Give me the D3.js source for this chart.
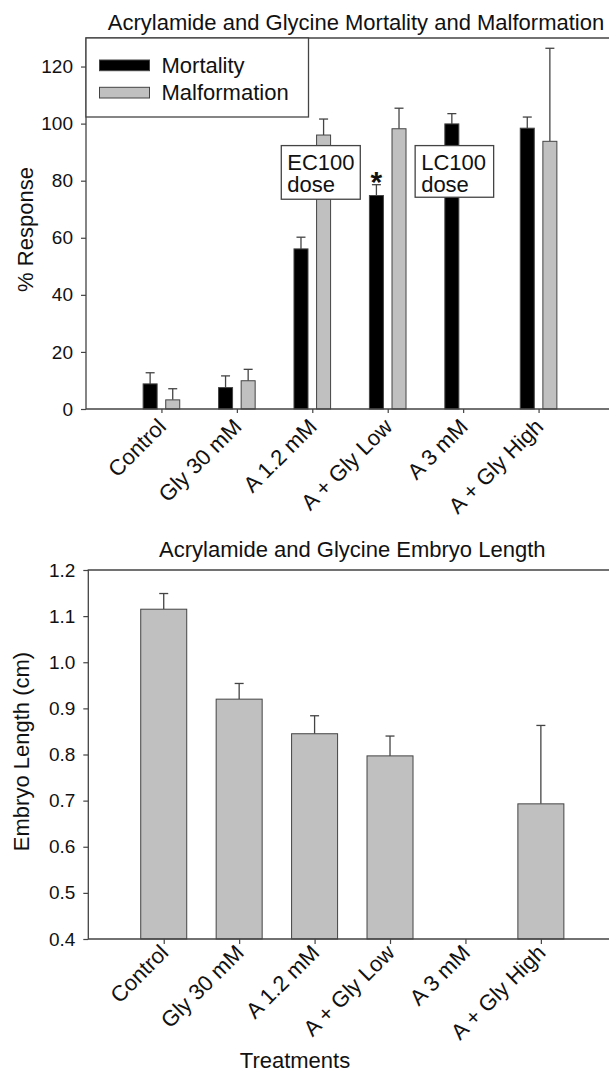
<!DOCTYPE html>
<html>
<head>
<meta charset="utf-8">
<style>
  body { margin: 0; background: #fff; }
  svg { display: block; font-family: 'Liberation Sans', Arial, sans-serif; }
  .axis .domain { display: none; }
  .axis .tick line { stroke: #444; stroke-width: 1.2; }
  .axis .tick text { font-size: 19px; fill: #111; font-family: 'Liberation Sans', Arial, sans-serif; }
  .title { font-size: 22px; fill: #111; }
  .axis-label { font-size: 22px; fill: #111; }
  .cat-label { font-size: 22px; fill: #111; }
  .frame { stroke: #444; stroke-width: 1.3; fill: none; }
  .err { stroke: #444; stroke-width: 1.3; }
  .note { font-size: 22px; fill: #111; }
</style>
</head>
<body>
<svg width="609" height="1073"></svg>
<script src="https://d3js.org/d3.v7.min.js"></script>
<script>
// treatments, in plotting order
const categories = ["Control", "Gly 30 mM", "A 1.2 mM", "A + Gly Low", "A 3 mM", "A + Gly High"];

// top panel: % response (upper error only)
const mortality = [8.8, 7.5, 56.1, 74.8, 99.9, 98.4];
const mortalityErr = [3.9, 4.1, 4.1, 3.8, 3.6, 3.9];
const malformation = [3.2, 9.9, 96.0, 98.2, null, 93.8];
const malformationErr = [3.9, 4.0, 5.6, 7.2, null, 32.6];
const topTicks = [0, 20, 40, 60, 80, 100, 120];

// bottom panel: embryo length (cm)
const lengthMean = [1.115, 0.920, 0.845, 0.797, null, 0.693];
const lengthErr = [0.034, 0.034, 0.039, 0.043, null, 0.170];
const bottomTicks = [0.4, 0.5, 0.6, 0.7, 0.8, 0.9, 1.0, 1.1, 1.2];

const svg = d3.select("svg");
const black = "#000000", grey = "#c0c0c0", edge = "#444";

// ---------- top panel ----------
const xTop = d3.scaleLinear().domain([0, 7]).range([86, 614]);
const yTop = d3.scaleLinear().domain([0, 130]).range([409, 38]);

const gTop = svg.append("g");

gTop.append("text")
    .attr("class", "title")
    .attr("x", (xTop(0) + xTop(7)) / 2 + 6)
    .attr("y", 30)
    .attr("text-anchor", "middle")
    .text("Acrylamide and Glycine Mortality and Malformation");

gTop.append("g")
    .attr("class", "axis")
    .attr("transform", `translate(${xTop(0)},0)`)
    .call(d3.axisLeft(yTop).tickValues(topTicks).tickSize(5).tickPadding(8));

gTop.append("g")
    .attr("class", "axis")
    .attr("transform", `translate(0,${yTop(0)})`)
    .call(d3.axisBottom(xTop).tickValues(d3.range(1, 7)).tickSize(4).tickFormat(""));

let bw = 14, off = 11.3;

let series = [
    { vals: mortality, errs: mortalityErr, fill: black, dx: -off },
    { vals: malformation, errs: malformationErr, fill: grey, dx: off }
];

series.forEach(s => {
    let rows = categories.map((c, i) => ({ i: i, v: s.vals[i], e: s.errs[i] }))
        .filter(d => d.v != null);

    gTop.selectAll(null)
        .data(rows)
        .join("line")
        .attr("class", "err")
        .attr("x1", d => xTop(d.i + 1) + s.dx)
        .attr("x2", d => xTop(d.i + 1) + s.dx)
        .attr("y1", d => yTop(d.v))
        .attr("y2", d => yTop(d.v + d.e));

    gTop.selectAll(null)
        .data(rows)
        .join("line")
        .attr("class", "err")
        .attr("x1", d => xTop(d.i + 1) + s.dx - 4.5)
        .attr("x2", d => xTop(d.i + 1) + s.dx + 4.5)
        .attr("y1", d => yTop(d.v + d.e))
        .attr("y2", d => yTop(d.v + d.e));

    gTop.selectAll(null)
        .data(rows)
        .join("rect")
        .attr("x", d => xTop(d.i + 1) + s.dx - bw / 2)
        .attr("width", bw)
        .attr("y", d => yTop(d.v))
        .attr("height", d => yTop(0) - yTop(d.v))
        .attr("fill", s.fill)
        .attr("stroke", edge)
        .attr("stroke-width", 1);
});

// frame (right side runs off the picture)
gTop.append("path")
    .attr("class", "frame")
    .attr("d", `M${xTop(7)},${yTop(130)}H${xTop(0)}V${yTop(0)}H${xTop(7)}`);

// legend
let leg = gTop.append("g");
leg.append("rect")
    .attr("x", xTop(0)).attr("y", yTop(130))
    .attr("width", 222.5).attr("height", 79)
    .attr("fill", "#fff").attr("stroke", edge).attr("stroke-width", 1.3);

[["Mortality", black], ["Malformation", grey]].forEach((d, k) => {
    leg.append("rect")
        .attr("x", xTop(0) + 13.5).attr("y", yTop(130) + 22 + k * 27.3)
        .attr("width", 50).attr("height", 10.7)
        .attr("fill", d[1]).attr("stroke", edge).attr("stroke-width", 1);
    leg.append("text")
        .attr("class", "note")
        .attr("x", xTop(0) + 75.5).attr("y", yTop(130) + 35 + k * 27)
        .text(d[0]);
});

// dose boxes and asterisk
function doseBox(cx, yHi, yLo, w, lines) {
    let g = gTop.append("g");
    g.append("rect")
        .attr("x", cx).attr("y", yTop(yHi))
        .attr("width", w).attr("height", yTop(yLo) - yTop(yHi))
        .attr("fill", "#fff").attr("stroke", edge).attr("stroke-width", 1.3);
    lines.forEach((t, k) => {
        g.append("text")
            .attr("class", "note")
            .attr("x", cx + 6)
            .attr("y", yTop(yHi) + 24 + k * 22.5)
            .text(t);
    });
}
doseBox(xTop(3) - 31, 92.3, 73.5, 79, ["EC100", "dose"]);
doseBox(xTop(5) - 48, 92.3, 74.2, 78.5, ["LC100", "dose"]);

gTop.append("text")
    .attr("x", xTop(4) - off)
    .attr("y", yTop(mortality[3] + mortalityErr[3]) + 7)
    .attr("text-anchor", "middle")
    .style("font-size", "30px")
    .style("font-weight", "bold")
    .attr("fill", "#111")
    .text("*");

gTop.append("text")
    .attr("class", "axis-label")
    .attr("transform", `translate(33,${(yTop(0) + yTop(130)) / 2 + 6}) rotate(-90)`)
    .attr("text-anchor", "middle")
    .text("% Response");

gTop.selectAll(null)
    .data(categories)
    .join("text")
    .attr("class", "cat-label")
    .attr("text-anchor", "end")
    .attr("transform", (d, i) => `translate(${xTop(i + 1) + 6},${yTop(0) + 19}) rotate(-45)`)
    .text(d => d);

// ---------- bottom panel ----------
const xBot = d3.scaleLinear().domain([0, 7]).range([88.3, 616.3]);
const yBot = d3.scaleLinear().domain([0.4, 1.2]).range([939, 570]);

const gBot = svg.append("g");

gBot.append("text")
    .attr("class", "title")
    .attr("x", (xBot(0) + xBot(7)) / 2)
    .attr("y", 557)
    .attr("text-anchor", "middle")
    .text("Acrylamide and Glycine Embryo Length");

gBot.append("g")
    .attr("class", "axis")
    .attr("transform", `translate(${xBot(0)},0)`)
    .call(d3.axisLeft(yBot).tickValues(bottomTicks).tickSize(5).tickPadding(8).tickFormat(d3.format(".1f")));

gBot.append("g")
    .attr("class", "axis")
    .attr("transform", `translate(0,${yBot(0.4)})`)
    .call(d3.axisBottom(xBot).tickValues(d3.range(1, 7)).tickSize(5).tickFormat(""));

let lenRows = categories.map((c, i) => ({ i: i, v: lengthMean[i], e: lengthErr[i] }))
    .filter(d => d.v != null);

gBot.selectAll(null)
    .data(lenRows)
    .join("line")
    .attr("class", "err")
    .attr("x1", d => xBot(d.i + 1))
    .attr("x2", d => xBot(d.i + 1))
    .attr("y1", d => yBot(d.v))
    .attr("y2", d => yBot(d.v + d.e));

gBot.selectAll(null)
    .data(lenRows)
    .join("line")
    .attr("class", "err")
    .attr("x1", d => xBot(d.i + 1) - 4.5)
    .attr("x2", d => xBot(d.i + 1) + 4.5)
    .attr("y1", d => yBot(d.v + d.e))
    .attr("y2", d => yBot(d.v + d.e));

gBot.selectAll(null)
    .data(lenRows)
    .join("rect")
    .attr("x", d => xBot(d.i + 1) - 23)
    .attr("width", 46)
    .attr("y", d => yBot(d.v))
    .attr("height", d => yBot(0.4) - yBot(d.v))
    .attr("fill", grey)
    .attr("stroke", edge)
    .attr("stroke-width", 1);

gBot.append("path")
    .attr("class", "frame")
    .attr("d", `M${xBot(7)},${yBot(1.2)}H${xBot(0)}V${yBot(0.4)}H${xBot(7)}`);

gBot.append("text")
    .attr("class", "axis-label")
    .attr("transform", `translate(29,${(yBot(0.4) + yBot(1.2)) / 2 - 3}) rotate(-90)`)
    .attr("text-anchor", "middle")
    .text("Embryo Length (cm)");

gBot.selectAll(null)
    .data(categories)
    .join("text")
    .attr("class", "cat-label")
    .attr("text-anchor", "end")
    .attr("transform", (d, i) => `translate(${xBot(i + 1) + 6},${yBot(0.4) + 15}) rotate(-45)`)
    .text(d => d);

gBot.append("text")
    .attr("class", "axis-label")
    .attr("x", 295)
    .attr("y", 1068)
    .attr("text-anchor", "middle")
    .text("Treatments");
</script>
</body>
</html>
